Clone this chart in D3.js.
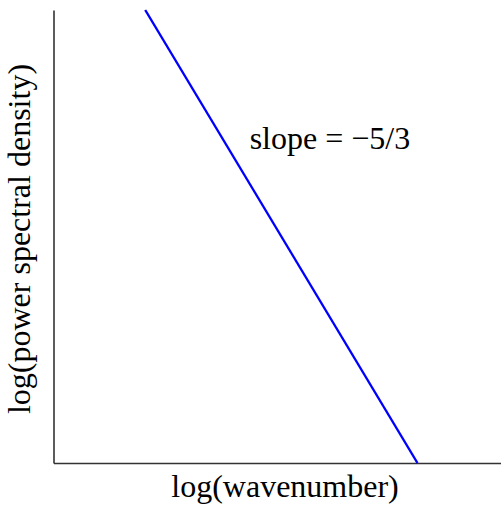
<!DOCTYPE html>
<html>
<head>
<meta charset="utf-8">
<script src="https://cdn.jsdelivr.net/npm/d3@7"></script>
</head>
<body style="margin:0;background:#fff">
<svg id="chart" width="501" height="506" font-family="Liberation Serif"></svg>
<script>
// Sample data: a -5/3 power law in log-log space (arbitrary units)
const logWavenumber = [1.23, 4.88];
const logPower = [6, 0];
const slopeLabel = "slope = \u22125/3";
const xLabel = "log(wavenumber)";
const yLabel = "log(power spectral density)";

const labelFont = "Liberation Serif";
const fontSize = 32;

const svg = d3.select("#chart");
const margin = { top: 10, right: 0, bottom: 43, left: 53.5 };
const width = 501 - margin.left - margin.right;
const height = 506 - margin.top - margin.bottom;

const g = svg.append("g").attr("transform", `translate(${margin.left},${margin.top})`);

const x = d3.scaleLinear().domain([0, 6]).range([0, width]);
const y = d3.scaleLinear().domain([0, 6]).range([height, 0]);

// Axes with no ticks, just the spines
const xAxis = g.append("g")
    .attr("transform", `translate(0,${height})`)
    .call(d3.axisBottom(x).ticks(0).tickSizeOuter(0));
const yAxis = g.append("g")
    .call(d3.axisLeft(y).ticks(0).tickSizeOuter(0));
[xAxis, yAxis].forEach(a => a.select(".domain")
    .attr("stroke", "#333")
    .attr("stroke-width", 1.6));

// Power-law line
const points = logWavenumber.map((k, i) => [k, logPower[i]]);
g.append("path")
    .datum(points)
    .attr("fill", "none")
    .attr("stroke", "#0000ff")
    .attr("stroke-width", 2.4)
    .attr("d", d3.line().x(d => x(d[0])).y(d => y(d[1])));

// Labels: slope annotation and the two axis titles
const labels = [
    { text: slopeLabel, x: margin.left + x(2.63), y: margin.top + y(4.16), anchor: "start", rotate: 0 },
    { text: xLabel, x: 285, y: 497, anchor: "middle", rotate: 0 },
    { text: yLabel, x: 30, y: 239, anchor: "middle", rotate: -90 }
];

svg.selectAll("text.label").data(labels).join("text")
    .attr("class", "label")
    .attr("transform", d => `translate(${d.x},${d.y}) rotate(${d.rotate})`)
    .attr("text-anchor", d => d.anchor)
    .attr("font-family", labelFont)
    .attr("font-size", fontSize)
    .attr("fill", "#000")
    .text(d => d.text);
</script>
</body>
</html>
